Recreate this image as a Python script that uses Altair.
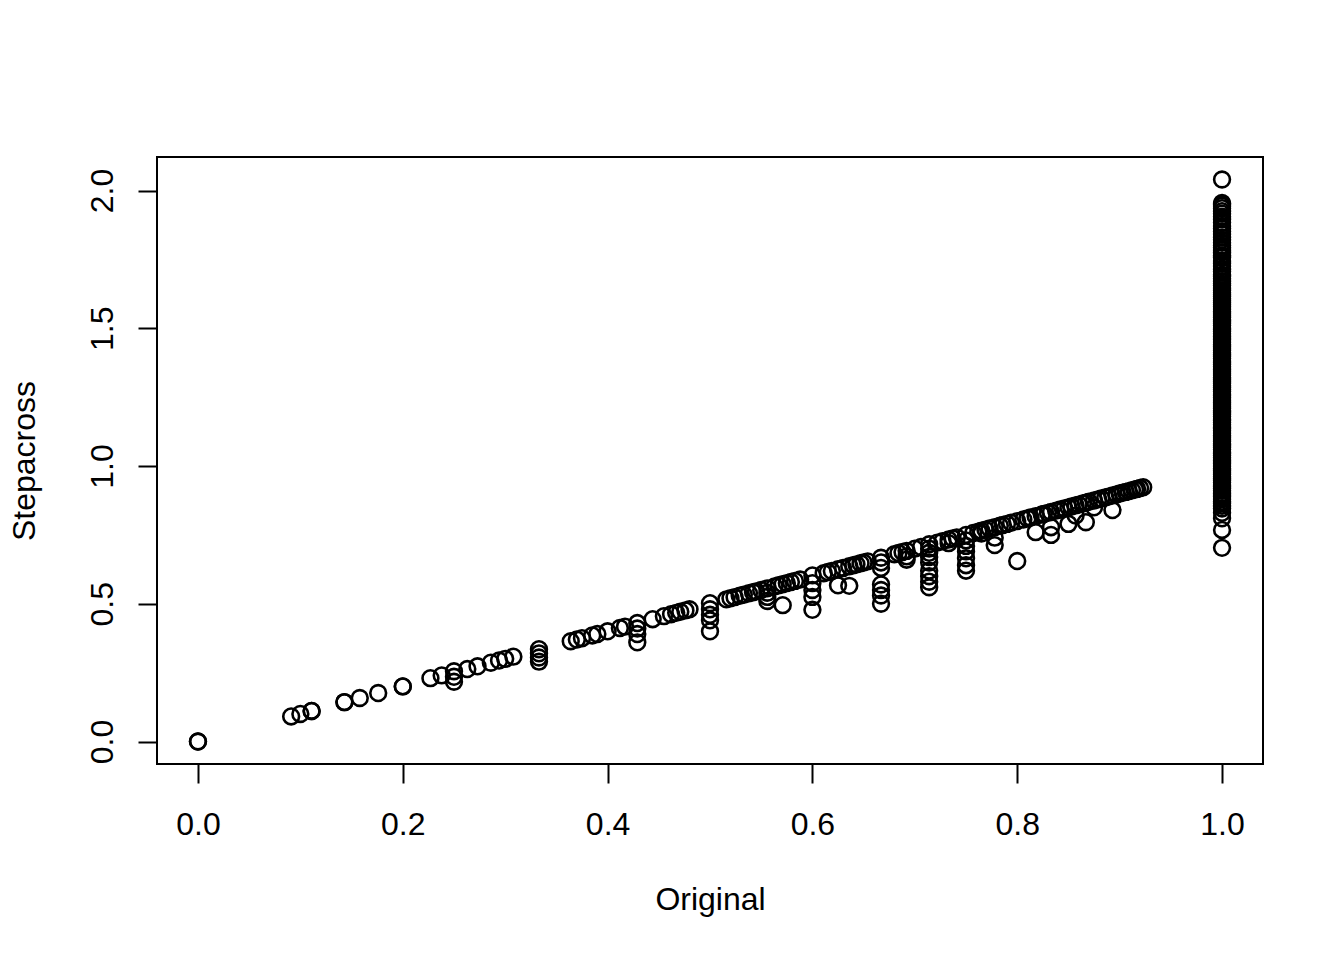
import altair as alt
import pandas as pd

# Points lying on the diagonal (Stepacross == Original)
diag_x = [0, 0, 0.091, 0.1, 0.111, 0.111, 0.143, 0.143, 0.158, 0.176, 0.2, 0.2,
          0.227, 0.238, 0.25, 0.263, 0.273, 0.286, 0.294, 0.3, 0.308, 0.333,
          0.364, 0.37, 0.375, 0.385, 0.39, 0.4, 0.412, 0.417, 0.429, 0.444,
          0.455, 0.462, 0.467, 0.471, 0.476, 0.48, 0.5, 0.516, 0.52, 0.524,
          0.529, 0.533, 0.538, 0.542, 0.545, 0.55, 0.556, 0.563, 0.567, 0.571,
          0.575, 0.579, 0.583, 0.588, 0.6, 0.611, 0.615, 0.619, 0.625, 0.63,
          0.636, 0.64, 0.643, 0.647, 0.65, 0.654, 0.667, 0.68, 0.684, 0.688,
          0.692, 0.7, 0.706, 0.714, 0.722, 0.727, 0.733, 0.737, 0.741, 0.75,
          0.757, 0.762, 0.765, 0.769, 0.773, 0.778, 0.783, 0.786, 0.79, 0.794,
          0.8, 0.806, 0.81, 0.813, 0.818, 0.824, 0.826, 0.83, 0.833, 0.838,
          0.842, 0.846, 0.85, 0.853, 0.857, 0.86, 0.864, 0.867, 0.87, 0.875,
          0.879, 0.882, 0.886, 0.889, 0.893, 0.897, 0.9, 0.903, 0.906, 0.909,
          0.912, 0.915, 0.917, 0.92, 0.923]
diag_y = [0, 0, 0.091, 0.1, 0.111, 0.111, 0.143, 0.143, 0.158, 0.176, 0.2, 0.2,
          0.23, 0.24, 0.255, 0.263, 0.273, 0.286, 0.294, 0.3, 0.308, 0.335,
          0.364, 0.37, 0.375, 0.385, 0.39, 0.4, 0.412, 0.417, 0.43, 0.444,
          0.455, 0.462, 0.467, 0.471, 0.476, 0.48, 0.502, 0.516, 0.52, 0.524,
          0.529, 0.533, 0.538, 0.542, 0.545, 0.55, 0.556, 0.563, 0.567, 0.571,
          0.575, 0.579, 0.583, 0.588, 0.603, 0.611, 0.615, 0.619, 0.625, 0.63,
          0.636, 0.64, 0.643, 0.647, 0.65, 0.654, 0.667, 0.68, 0.684, 0.688,
          0.692, 0.7, 0.706, 0.716, 0.722, 0.727, 0.733, 0.737, 0.741, 0.75,
          0.757, 0.762, 0.765, 0.769, 0.773, 0.778, 0.783, 0.786, 0.79, 0.794,
          0.8, 0.806, 0.81, 0.813, 0.818, 0.824, 0.826, 0.83, 0.833, 0.838,
          0.842, 0.846, 0.85, 0.853, 0.857, 0.86, 0.864, 0.867, 0.87, 0.875,
          0.879, 0.882, 0.886, 0.889, 0.893, 0.897, 0.9, 0.903, 0.906, 0.909,
          0.912, 0.915, 0.917, 0.92, 0.923]

# Points below the diagonal
off_x = [0.25, 0.25, 0.333, 0.333, 0.333, 0.429, 0.429, 0.429, 0.5, 0.5, 0.5,
         0.5, 0.556, 0.556, 0.556, 0.571, 0.6, 0.6, 0.6, 0.6, 0.625, 0.636,
         0.667, 0.667, 0.667, 0.667, 0.667, 0.667, 0.692, 0.692, 0.714, 0.714,
         0.714, 0.714, 0.714, 0.714, 0.714, 0.714, 0.733, 0.75, 0.75, 0.75,
         0.75, 0.75, 0.75, 0.765, 0.778, 0.778, 0.8, 0.818, 0.833, 0.833, 0.85,
         0.857, 0.867, 0.875, 0.893]
off_y = [0.235, 0.217, 0.32, 0.305, 0.29, 0.41, 0.39, 0.36, 0.48, 0.46, 0.44,
         0.40, 0.54, 0.525, 0.51, 0.495, 0.575, 0.55, 0.525, 0.478, 0.567,
         0.565, 0.65, 0.63, 0.57, 0.55, 0.53, 0.50, 0.672, 0.66, 0.70, 0.685,
         0.67, 0.65, 0.62, 0.60, 0.58, 0.56, 0.72, 0.73, 0.71, 0.69, 0.665,
         0.64, 0.62, 0.755, 0.74, 0.713, 0.655, 0.76, 0.778, 0.75, 0.79, 0.82,
         0.796, 0.85, 0.84]

# Points at Original == 1
one_y = [2.04, 1.955, 1.95, 1.944, 1.936, 1.925, 1.916, 1.905, 1.896, 1.884,
         1.871, 1.862, 1.851, 1.842, 1.83, 1.821, 1.81, 1.80, 1.792, 1.784,
         1.776, 1.764, 1.757, 1.744, 1.736, 1.726, 1.714, 1.706, 1.694, 1.689,
         1.68, 1.671, 1.662, 1.655, 1.646, 1.638, 1.629, 1.622, 1.615, 1.607,
         1.600, 1.593, 1.585, 1.578, 1.570, 1.561, 1.555, 1.548, 1.540, 1.531,
         1.525, 1.518, 1.510, 1.501, 1.495, 1.488, 1.480, 1.471, 1.465, 1.458,
         1.450, 1.441, 1.435, 1.428, 1.420, 1.411, 1.405, 1.398, 1.390, 1.381,
         1.375, 1.368, 1.360, 1.351, 1.345, 1.338, 1.330, 1.321, 1.315, 1.308,
         1.300, 1.291, 1.285, 1.278, 1.270, 1.261, 1.255, 1.248, 1.240, 1.231,
         1.225, 1.218, 1.210, 1.201, 1.195, 1.188, 1.180, 1.171, 1.165, 1.158,
         1.150, 1.141, 1.135, 1.128, 1.120, 1.111, 1.105, 1.098, 1.090, 1.081,
         1.075, 1.068, 1.060, 1.051, 1.045, 1.038, 1.030, 1.021, 1.015, 1.008,
         1.000, 0.991, 0.985, 0.978, 0.970, 0.961, 0.955, 0.948, 0.940, 0.931,
         0.925, 0.918, 0.910, 0.901, 0.895, 0.888, 0.880, 0.871, 0.865, 0.856,
         0.846, 0.83, 0.81, 0.768, 0.703]

x_ticks = [0.0, 0.2, 0.4, 0.6, 0.8, 1.0]
y_ticks = [0.0, 0.5, 1.0, 1.5, 2.0]

orig = diag_x + off_x + [1.0] * len(one_y)
step = diag_y + off_y + one_y
df = pd.DataFrame({"Original": orig, "Stepacross": step})

FONT = "Liberation Sans"
W, H = 1106, 607

chart = alt.Chart(df).mark_point(
    shape="circle", filled=False, size=250, strokeWidth=2.6, color="black", opacity=1
).encode(
    x=alt.X("Original:Q",
            scale=alt.Scale(domain=[-0.04, 1.04], nice=False, zero=False),
            axis=alt.Axis(values=x_ticks, format=".1f", grid=False, domain=False,
                          tickSize=19, tickWidth=2, tickColor="black",
                          labelFont=FONT, labelFontSize=32, labelColor="black",
                          labelBaseline="alphabetic", labelPadding=51,
                          labelFlush=False, labelOverlap=False,
                          title="Original", titleFont=FONT, titleFontSize=32,
                          titleFontWeight="normal", titleColor="black",
                          titleBaseline="alphabetic", titleAlign="center",
                          titleX=W / 2, titleY=145)),
    y=alt.Y("Stepacross:Q",
            scale=alt.Scale(domain=[-0.0816, 2.1216], nice=False, zero=False),
            axis=alt.Axis(values=y_ticks, format=".1f", grid=False, domain=False,
                          tickSize=19, tickWidth=2, tickColor="black",
                          labelFont=FONT, labelFontSize=32, labelColor="black",
                          labelAngle=270, labelAlign="center",
                          labelBaseline="alphabetic", labelPadding=26,
                          labelFlush=False, labelOverlap=False,
                          title="Stepacross", titleFont=FONT, titleFontSize=32,
                          titleFontWeight="normal", titleColor="black",
                          titleAngle=270, titleBaseline="alphabetic",
                          titleAlign="center", titleX=-123, titleY=H / 2)),
).properties(
    width=W, height=H,
    background="white",
    autosize=alt.AutoSizeParams(type="none"),
    padding={"left": 149, "top": 149, "right": 70, "bottom": 180},
).configure_view(
    stroke="black", strokeWidth=2, fill="white"
)

chart.save("out.html", embed_options={"renderer": "svg", "actions": False})
